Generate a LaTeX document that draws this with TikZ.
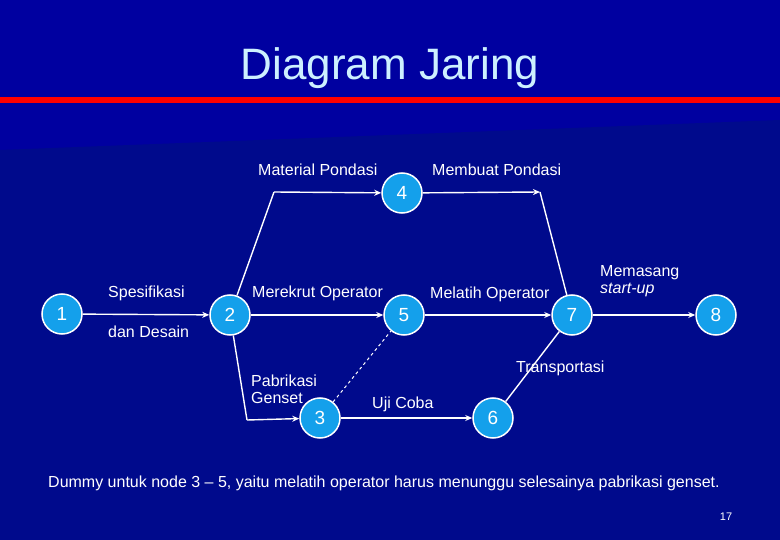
\documentclass[tikz,border=0pt]{standalone}
\usepackage{fontspec}
\setmainfont{Liberation Sans}
\usetikzlibrary{arrows.meta}
\definecolor{bgA}{RGB}{0,0,160}
\definecolor{bgB}{RGB}{0,10,140}
\definecolor{nodeblue}{RGB}{20,160,235}
\definecolor{titlec}{RGB}{205,240,255}
\begin{document}
\begin{tikzpicture}[x=1pt,y=-1pt,
  ev/.style={circle,draw=white,line width=1.5pt,fill=nodeblue,minimum size=40pt,inner sep=0pt,text=white,font=\fontsize{19}{19}\selectfont},
  lbl/.style={text=white,font=\fontsize{16}{17}\selectfont,inner sep=0pt},
  act/.style={draw=white,line width=1.4pt,-{Stealth[length=7pt,width=6pt]}},
  seg/.style={draw=white,line width=1.4pt}]
\fill[bgA] (0,0) rectangle (780,540);
\fill[bgB] (0,150) -- (780,120) -- (780,540) -- (0,540) -- cycle;
\fill[red] (0,97) rectangle (780,103);
\node[text=titlec,font=\fontsize{44}{44}\selectfont] (title) at (390,68) {Diagram Jaring};
\node[ev] (n1) at (62,314) {1};
\node[ev] (n2) at (230,315) {2};
\node[ev] (n4) at (402,193) {4};
\node[ev] (n5) at (404,315) {5};
\node[ev] (n7) at (572,315) {7};
\node[ev] (n8) at (716,315) {8};
\node[ev] (n3) at (320,418) {3};
\node[ev] (n6) at (493,418) {6};
\coordinate (c24) at (274,192);
\coordinate (c47) at (540,192);
\coordinate (c23) at (247,420);
\draw[act] (n1) -- (n2);
\draw[act] (n2) -- (n5);
\draw[act] (n5) -- (n7);
\draw[act] (n7) -- (n8);
\draw[seg] (n2) -- (c24);
\draw[act] (c24) -- (n4);
\draw[act] (n4) -- (c47);
\draw[seg] (c47) -- (n7);
\draw[seg] (n2) -- (c23);
\draw[act] (c23) -- (n3);
\draw[act] (n3) -- (n6);
\draw[seg] (n6) -- (n7);
\draw[seg,dashed,line width=1pt] (n3) -- (n5);
\node[lbl,anchor=west] (l1) at (108,293) {Spesifikasi};
\node[lbl,anchor=west] (l1b) at (108,332) {dan Desain};
\node[lbl,anchor=west] (l2) at (258,170) {Material Pondasi};
\node[lbl,anchor=west] (l3) at (432,170) {Membuat Pondasi};
\node[lbl,anchor=west] (l4) at (252,293) {Merekrut Operator};
\node[lbl,anchor=west] (l5) at (430,294) {Melatih Operator};
\node[lbl,anchor=west,align=left] (l6) at (600,281) {Memasang\\\textit{start-up}};
\node[lbl,anchor=west] (l7) at (516,368) {Transportasi};
\node[lbl,anchor=west,align=left] (l8) at (251,389) {Pabrikasi\\Genset};
\node[lbl,anchor=west] (l9) at (372,404) {Uji Coba};
\node[lbl,anchor=west] (note) at (48,483) {Dummy untuk node 3 -- 5, yaitu melatih operator harus menunggu selesainya pabrikasi genset.};
\node[lbl,font=\fontsize{11}{11}\selectfont] (pg) at (726,517) {17};
\end{tikzpicture}
\end{document}
